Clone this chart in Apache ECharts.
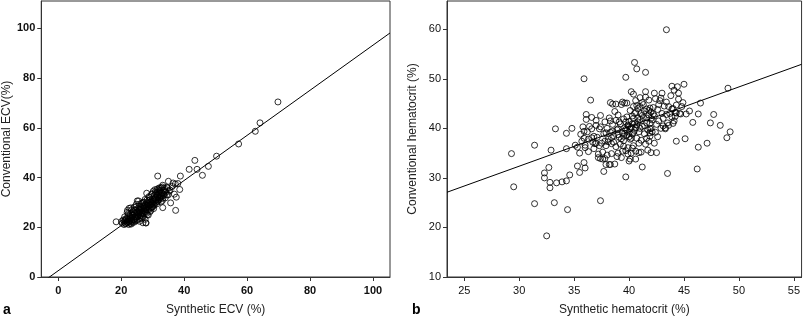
<!DOCTYPE html>
<html lang="en">
<head>
    <meta charset="UTF-8">
    <title>Synthetic vs Conventional ECV / Hematocrit</title>
    <script src="https://cdn.jsdelivr.net/npm/echarts@6.0.0/dist/echarts.min.js"></script>
    <style>
        html, body { margin: 0; padding: 0; background: #fff; }
        #chart { width: 803px; height: 321px; }
    </style>
</head>
<body>
<div id="chart"></div>
<script>
// panel a: synthetic ECV (x) vs conventional ECV (y)
var ecvPoints = [
    [20.3,21.6],[20.6,22.9],[20.9,21.1],[21.1,24.2],[21.3,22.6],[21.5,21.4],[21.7,23.5],[21.9,26.0],[22.0,21.9],[22.2,24.7],
    [22.4,22.3],[22.5,27.6],[22.7,23.8],[22.9,21.5],[23.0,25.4],[23.2,22.8],[23.3,27.0],[23.5,24.1],[23.6,21.9],[23.8,26.3],
    [23.9,23.4],[24.1,28.1],[24.2,25.2],[24.4,22.6],[24.5,26.9],[24.7,24.0],[24.8,29.2],[25.0,25.8],[25.1,23.1],[25.3,27.5],
    [25.4,24.6],[25.5,30.6],[25.7,26.4],[25.8,22.4],[26.0,28.3],[26.1,25.1],[26.2,27.2],[26.4,23.8],[26.5,29.7],[26.6,26.0],
    [26.8,24.5],[26.9,28.6],[27.0,26.7],[27.2,30.1],[27.3,25.3],[27.4,27.9],[27.6,23.2],[27.7,29.1],[27.8,26.2],[27.9,21.7],
    [28.1,28.0],[28.2,31.0],[28.3,26.8],[28.5,29.5],[28.6,24.9],[28.7,30.6],[28.8,27.6],[29.0,32.1],[29.1,28.9],[29.2,26.3],
    [29.4,30.3],[29.5,27.8],[29.6,33.2],[29.8,29.6],[29.9,31.4],[30.0,28.2],[30.2,34.5],[30.3,30.7],[30.4,29.1],[30.6,32.8],
    [30.7,35.1],[30.8,30.0],[31.0,33.5],[31.1,31.2],[31.3,29.4],[31.4,34.0],[31.6,32.3],[31.7,30.5],[31.9,35.0],[32.0,33.1],
    [32.2,31.4],[32.3,34.6],[32.5,32.7],[32.7,30.2],[32.8,35.8],[33.0,33.6],[33.2,31.6],[33.4,34.9],[33.6,32.9],[33.8,35.6],
    [34.0,31.8],[34.2,34.2],[34.5,33.0],[34.8,35.9],[35.2,34.5],
    [21.0,22.5],[21.4,23.3],[21.8,22.1],[22.1,23.0],[22.3,25.5],[22.6,22.0],[22.8,24.4],[23.1,23.6],[23.4,22.4],[23.7,24.9],
    [24.0,23.0],[24.3,25.7],[24.6,23.5],[24.9,26.3],[25.2,24.2],[25.6,25.5],[25.9,27.1],[26.3,24.8],[26.7,27.6],[27.1,25.9],
    [27.5,28.4],[27.8,27.0],[28.0,25.6],[28.4,28.9],[28.9,27.2],[29.3,29.1],[29.7,28.0],[30.1,30.4],[30.5,28.8],[30.9,31.8],
    [31.2,30.1],[31.5,32.9],[31.8,31.0],[32.1,32.0],[32.4,33.6],[32.6,31.9],[32.9,32.6],[33.1,30.8],[33.5,33.3],[26.0,26.1],
    [25.3,26.0],[24.4,24.3],[23.5,25.0],[22.7,22.7],[27.3,27.3],[28.6,28.1],[29.5,30.0],[30.0,29.5],[31.0,30.9],[26.6,25.5],
    [21.2,21.6],[22.4,21.1],[23.2,21.3],[24.2,22.1],[25.0,22.8],[26.0,23.4],[27.0,24.2],[28.3,25.0],[29.4,26.8],[30.3,27.5],
    [22.0,26.8],[23.0,27.8],[24.0,27.0],[24.7,28.3],[25.8,29.3],[26.9,30.0],[27.6,31.2],[28.8,32.3],[29.9,33.5],[30.9,34.2],
    [31.4,35.3],[32.5,35.9],[33.1,36.2],[27.2,28.6],[26.3,27.9],[28.0,29.8],[29.0,30.9],[30.6,31.5],[31.9,33.9],[32.8,34.2],
    [18.4,22.2],[20.1,22.3],[25.1,30.6],[28.1,33.7],[27.8,21.8],[26.9,21.8],[31.6,40.6],[33.2,36.9],[33.2,27.9],[35.0,38.5],
    [35.7,29.8],[36.5,37.8],[37.2,37.4],[38.0,37.6],[36.9,33.3],[37.5,32.1],[37.3,26.8],[38.6,35.2],[38.8,40.6],[41.6,43.3],
    [43.4,46.9],[44.1,43.3],[45.8,40.9],[47.7,44.5],[50.3,48.6],[57.3,53.5],[62.6,58.6],[64.1,62.0],[69.8,70.4],[34.5,36.0],
    [33.8,34.8],[32.0,35.8],[34.9,33.0],[35.5,35.0],[36.2,36.4]
];

// panel b: synthetic hematocrit (x) vs conventional hematocrit (y)
var hctPoints = [
    [43.4,59.9],[40.5,53.3],[40.7,52.0],[41.5,51.3],[39.7,50.3],[35.9,50.0],[45.0,48.9],[43.9,48.5],[44.1,47.7],[49.0,48.1],
    [36.5,45.7],[46.5,45.1],[44.5,47.1],[42.3,47.1],[41.5,47.4],[44.5,45.9],[44.3,44.7],[45.2,42.9],[44.3,43.1],[46.3,42.9],
    [47.7,42.8],[45.8,41.2],[47.4,41.1],[48.3,40.6],[49.2,39.3],[48.9,38.1],[45.1,37.9],[44.3,37.4],[47.1,37.0],[46.3,36.2],
    [46.2,31.8],[43.5,30.9],[41.2,32.2],[42.0,35.1],[39.7,30.2],[37.4,25.4],[34.4,23.6],[31.4,24.8],[33.2,25.0],[32.5,18.3],
    [29.5,28.2],[29.3,34.9],[31.4,36.6],[32.9,35.6],[33.3,39.9],[34.3,39.0],[34.3,35.9],[34.8,40.0],[32.7,32.1],[32.3,31.0],
    [32.3,30.0],[32.8,29.1],[32.8,28.0],[33.4,29.0],[33.9,29.2],[34.3,29.4],[34.6,30.6],[35.3,32.4],[35.9,33.1],[35.5,31.1],
    [36.0,32.0],[37.7,31.3],[37.9,32.7],[38.3,32.7],[38.7,32.8],[37.4,33.9],[39.3,34.1],[40.1,33.8],[41.8,37.4],[35.1,36.6],
    [35.3,36.2],[35.5,35.0],[35.6,38.8],[35.7,37.4],[35.8,40.3],[35.9,38.0],[36.0,36.6],[36.1,41.8],[36.1,42.8],[36.2,39.3],
    [36.3,37.8],[36.4,40.4],[36.0,36.1],[35.9,39.4],[36.6,39.9],[36.7,37.2],[36.8,38.4],[36.9,36.9],[37.0,40.6],[37.1,38.2],
    [37.2,34.1],[37.3,39.9],[37.4,42.6],[37.5,37.0],[37.6,35.2],[37.7,38.9],[37.8,41.3],[37.9,36.5],[37.8,33.9],[37.6,33.8],
    [37.2,34.8],[38.0,40.0],[38.1,37.3],[38.2,42.1],[38.3,39.2],[38.3,45.2],[38.4,36.9],[38.5,40.8],[38.5,44.9],[38.6,38.5],
    [38.7,43.4],[38.8,41.6],[38.8,36.3],[38.9,39.7],[39.0,35.0],[39.0,42.7],[39.1,38.2],[39.2,40.9],[39.2,36.8],[39.3,44.8],
    [39.4,39.0],[39.5,41.9],[39.5,37.5],[39.6,45.1],[39.7,39.8],[39.7,35.5],[39.8,42.3],[39.8,38.6],[39.9,40.5],[39.9,36.1],
    [40.0,41.4],[40.0,39.2],[40.1,43.6],[40.1,37.8],[40.2,40.2],[40.2,35.0],[40.3,42.5],[40.3,38.9],[40.4,44.4],[40.4,46.9],
    [40.4,36.5],[40.5,41.0],[40.5,39.6],[40.6,43.2],[40.6,45.6],[40.6,33.8],[40.7,40.7],[40.7,38.0],[40.8,42.0],[40.8,44.0],
    [40.9,39.3],[40.9,35.1],[41.0,41.8],[41.0,46.2],[41.1,43.0],[41.1,37.6],[41.2,40.4],[41.3,44.8],[41.3,42.2],[41.4,38.9],
    [41.5,46.3],[41.5,36.8],[41.6,43.9],[41.6,41.1],[41.7,39.7],[41.7,35.6],[41.8,42.7],[41.8,45.7],[41.9,38.4],[41.9,44.1],
    [42.0,40.0],[42.0,43.3],[42.1,41.7],[42.1,39.3],[42.2,44.2],[42.3,37.0],[42.3,42.5],[42.4,46.0],[42.5,40.8],[42.6,43.8],
    [42.7,41.5],[42.8,45.6],[42.9,40.0],[43.0,43.0],[43.0,47.1],[43.1,42.0],[43.2,44.5],[43.3,40.1],[43.4,42.8],[43.5,41.1],
    [43.6,44.4],[43.7,43.0],[43.8,46.6],[43.9,42.3],[44.0,44.0],[44.1,41.5],[44.2,43.2],[44.4,48.4],[44.6,43.0],[44.8,44.4],
    [38.2,32.7],[38.9,34.3],[39.4,35.4],[38.1,37.8],[37.9,39.1],[38.4,38.1],[39.1,41.3],[39.6,40.1],[39.6,39.0],[39.8,39.6],
    [40.0,38.3],[40.1,39.9],[39.9,40.7],[40.3,40.9],[40.2,38.0],[39.5,38.4],[39.7,41.3],[40.4,39.2],[38.8,44.9],[39.8,45.1],
    [40.5,43.0],[40.4,42.0],[40.6,40.1],[40.8,41.3],[41.0,40.0],[41.2,42.6],[41.4,43.5],[41.6,42.1],[41.8,43.6],[42.0,42.0],
    [42.2,42.9],[41.9,41.0],[41.4,40.5],[40.9,37.0],[40.3,36.0],[40.6,35.4],[41.1,35.2],[41.6,38.0],[42.4,39.2],[42.6,38.3],
    [43.1,40.5],[43.3,39.9],[43.6,40.6],[43.9,43.9],[44.2,42.4],[44.0,41.0],[44.7,42.9],[42.5,35.1],[41.9,39.9],[41.9,39.1],
    [36.6,38.1],[37.0,37.0],[37.4,40.3],[37.8,37.4],[38.3,41.5],[38.6,37.2],[39.0,39.9],[39.3,37.9],[39.0,38.7],[38.5,39.4],
    [37.3,36.5],[36.8,35.9],[36.3,35.3],[38.0,34.6],[38.4,34.9],[39.5,36.4],[39.9,34.8],[40.0,33.4],[37.0,41.6],[36.6,42.2],
    [40.7,44.6],[41.2,45.2],[42.7,44.8],[43.4,45.3],[42.9,46.1],[40.2,47.4],[39.4,45.3],[41.0,44.4],[44.9,45.2],[45.5,43.5]
];

// least-squares lines [intercept, slope]
var ecvFit = [2.54, 0.907];
var hctFit = [8.36, 0.80];

var ecvXTicks = [0, 20, 40, 60, 80, 100];
var ecvYTicks = [0, 20, 40, 60, 80, 100];
var hctXTicks = [25, 30, 35, 40, 45, 50, 55];
var hctYTicks = [10, 20, 30, 40, 50, 60];

var ecvXRange = [-5.4, 105.4], ecvYRange = [0, 111];
var hctXRange = [23.43, 55.7], hctYRange = [10, 65.7];

function fitLine(fit, xr) {
    return [[xr[0], fit[0] + fit[1] * xr[0]], [xr[1], fit[0] + fit[1] * xr[1]]];
}

var font = 'Liberation Sans';

function makeAxis(range, ticks, bold, extra) {
    var ax = {
        type: 'value',
        min: range[0],
        max: range[1],
        splitLine: { show: false },
        axisLine: { show: true, onZero: false, lineStyle: { color: '#333', width: 1 } },
        axisTick: { show: true, length: 4, customValues: ticks, lineStyle: { color: '#333' } },
        axisLabel: {
            customValues: ticks, color: '#111', fontFamily: font, fontSize: 11,
            fontWeight: bold ? 'bold' : 'normal'
        },
        nameLocation: 'middle',
        nameTextStyle: { color: '#222', fontFamily: font, fontSize: 12 }
    };
    for (var k in extra) ax[k] = extra[k];
    return ax;
}

var chart = echarts.init(document.getElementById('chart'), null, { renderer: 'canvas' });

var option = {
    animation: false,
    backgroundColor: '#fff',
    grid: [
        { left: 39, top: 1, width: 351, height: 278, show: true, borderColor: '#333', borderWidth: 1 },
        { left: 447, top: 1, width: 355, height: 278, show: true, borderColor: '#333', borderWidth: 1 }
    ],
    xAxis: [
        makeAxis(ecvXRange, ecvXTicks, true, { gridIndex: 0, name: 'Synthetic ECV (%)', nameGap: 27,
            axisLabel: { customValues: ecvXTicks, color: '#111', fontFamily: font, fontSize: 11, fontWeight: 'bold', margin: 8 } }),
        makeAxis(hctXRange, hctXTicks, false, { gridIndex: 1, name: 'Synthetic hematocrit (%)', nameGap: 27,
            axisLabel: { customValues: hctXTicks, color: '#111', fontFamily: font, fontSize: 11, margin: 8 } })
    ],
    yAxis: [
        makeAxis(ecvYRange, ecvYTicks, true, { gridIndex: 0, name: 'Conventional ECV(%)', nameGap: 25,
            axisLabel: { customValues: ecvYTicks, color: '#111', fontFamily: font, fontSize: 11, fontWeight: 'bold', margin: 6 } }),
        makeAxis(hctYRange, hctYTicks, false, { gridIndex: 1, name: 'Conventional hematocrit (%)', nameGap: 28,
            axisLabel: { customValues: hctYTicks, color: '#111', fontFamily: font, fontSize: 11, margin: 6 } })
    ],
    title: [
        { text: 'a', left: 3, top: 303, textStyle: { fontFamily: font, fontSize: 14, fontWeight: 'bold', color: '#000' }, padding: 0 },
        { text: 'b', left: 412, top: 303, textStyle: { fontFamily: font, fontSize: 14, fontWeight: 'bold', color: '#000' }, padding: 0 }
    ],
    series: [
        {
            type: 'scatter', xAxisIndex: 0, yAxisIndex: 0, data: ecvPoints,
            symbol: 'circle', symbolSize: 6,
            itemStyle: { color: 'rgba(0,0,0,0)', borderColor: '#000', borderWidth: 1 }
        },
        {
            type: 'line', xAxisIndex: 0, yAxisIndex: 0, data: fitLine(ecvFit, ecvXRange),
            symbol: 'none', lineStyle: { color: '#000', width: 1 }, z: 3
        },
        {
            type: 'scatter', xAxisIndex: 1, yAxisIndex: 1, data: hctPoints,
            symbol: 'circle', symbolSize: 6,
            itemStyle: { color: 'rgba(0,0,0,0)', borderColor: '#000', borderWidth: 1 }
        },
        {
            type: 'line', xAxisIndex: 1, yAxisIndex: 1, data: fitLine(hctFit, hctXRange),
            symbol: 'none', lineStyle: { color: '#000', width: 1 }, z: 3
        }
    ]
};

chart.setOption(option);
</script>
</body>
</html>
